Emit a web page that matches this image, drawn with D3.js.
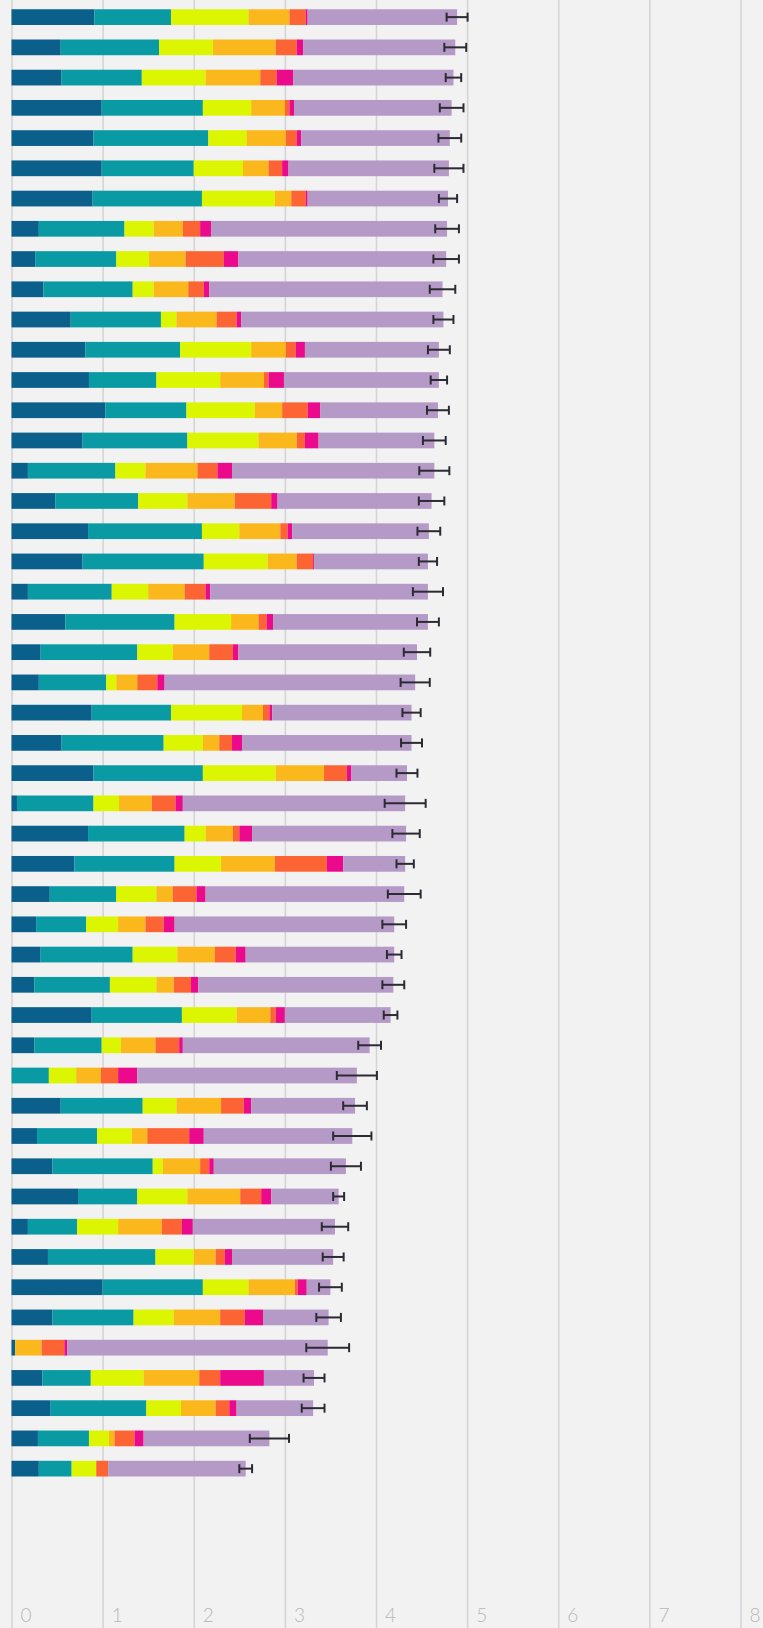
<!DOCTYPE html>
<html>
<head>
<meta charset="utf-8">
<script src="https://cdn.jsdelivr.net/npm/d3@7"></script>
<style>
  html, body { margin: 0; padding: 0; background: #f2f2f2; }
  svg { display: block; }
</style>
</head>
<body>
<div id="chart"></div>
<script>
// Stacked horizontal bars, seven components per row, with an error bar on each total.
const tickValues = [0, 1, 2, 3, 4, 5, 6, 7, 8];

const darkBlue = [0.91,0.54,0.55,0.99,0.90,0.99,0.89,0.30, 0.26,0.35,0.65,0.81,0.85,1.03,0.78,0.18,
  0.48,0.84,0.78,0.18,0.59,0.32,0.30,0.88, 0.55,0.90,0.06,0.84,0.69,0.42,0.27,0.32,
  0.25,0.88,0.25,0.00,0.54,0.28,0.45,0.73, 0.18,0.40,1.00,0.45,0.04,0.34,0.43,0.29,0.30];
const teal = [0.84,1.08,0.88,1.11,1.26,1.01,1.20,0.94, 0.89,0.98,0.99,1.04,0.74,0.89,1.15,0.96,
  0.91,1.25,1.33,0.92,1.20,1.06,0.74,0.87, 1.12,1.20,0.84,1.06,1.10,0.73,0.55,1.01,
  0.83,0.99,0.74,0.41,0.90,0.66,1.10,0.65, 0.54,1.18,1.10,0.89,0.00,0.53,1.05,0.56,0.36];
const lime = [0.85,0.59,0.70,0.53,0.42,0.54,0.80,0.32, 0.36,0.23,0.17,0.78,0.70,0.75,0.78,0.33,
  0.54,0.41,0.70,0.40,0.62,0.39,0.11,0.78, 0.43,0.80,0.28,0.23,0.51,0.44,0.35,0.49,
  0.51,0.60,0.21,0.30,0.37,0.38,0.11,0.55, 0.45,0.42,0.50,0.44,0.00,0.58,0.38,0.22,0.27];
const amber = [0.45,0.69,0.60,0.37,0.43,0.28,0.18,0.32, 0.40,0.38,0.44,0.38,0.48,0.30,0.42,0.57,
  0.52,0.45,0.32,0.40,0.30,0.40,0.23,0.23, 0.18,0.53,0.36,0.30,0.59,0.18,0.30,0.41,
  0.19,0.37,0.38,0.27,0.49,0.17,0.41,0.58, 0.48,0.24,0.51,0.51,0.29,0.61,0.38,0.06,0.00];
const coral = [0.18,0.23,0.18,0.05,0.12,0.15,0.16,0.19, 0.42,0.17,0.22,0.11,0.05,0.28,0.09,0.22,
  0.40,0.08,0.18,0.23,0.09,0.26,0.22,0.07, 0.14,0.25,0.26,0.07,0.57,0.26,0.20,0.23,
  0.19,0.06,0.26,0.19,0.25,0.46,0.10,0.23, 0.22,0.10,0.03,0.27,0.25,0.23,0.15,0.22,0.13];
const magenta = [0.02,0.07,0.18,0.05,0.05,0.07,0.02,0.12, 0.16,0.06,0.05,0.10,0.17,0.14,0.15,0.16,
  0.07,0.05,0.01,0.05,0.07,0.06,0.08,0.03, 0.11,0.05,0.08,0.14,0.18,0.10,0.12,0.11,
  0.08,0.10,0.04,0.21,0.08,0.16,0.05,0.11, 0.12,0.08,0.10,0.20,0.03,0.48,0.08,0.10,0.00];
const lavender = [1.64,1.67,1.76,1.73,1.63,1.76,1.54,2.59, 2.28,2.56,2.22,1.47,1.70,1.29,1.27,2.22,
  1.69,1.50,1.25,2.39,1.70,1.96,2.75,1.53, 1.86,0.61,2.44,1.69,0.68,2.18,2.41,1.63,
  2.14,1.16,2.05,2.41,1.14,1.63,1.45,0.74, 1.56,1.11,0.26,0.72,2.86,0.55,0.84,1.38,1.51];
const errorHalf = [0.115,0.12,0.085,0.13,0.125,0.16,0.10,0.13, 0.14,0.14,0.11,0.12,0.09,0.12,0.125,0.165,
  0.14,0.125,0.10,0.165,0.12,0.145,0.16,0.10, 0.115,0.115,0.225,0.15,0.095,0.18,0.13,0.08,
  0.12,0.075,0.125,0.22,0.13,0.21,0.165,0.06, 0.145,0.115,0.125,0.135,0.235,0.115,0.125,0.215,0.07];

const seriesKeys = ["darkBlue", "teal", "lime", "amber", "coral", "magenta", "lavender"];
const seriesColors = ["#0a5f8b", "#0a9aa3", "#dcf500", "#fbb81c", "#fd6433", "#ec0a8c", "#b59ac8"];
const seriesValues = [darkBlue, teal, lime, amber, coral, magenta, lavender];

const rows = darkBlue.map((_, i) => {
  const r = { id: i };
  seriesKeys.forEach((k, j) => { r[k] = seriesValues[j][i]; });
  r.total = seriesValues.reduce((s, arr) => s + arr[i], 0);
  r.err = errorHalf[i];
  return r;
});

const W = 763, H = 1628;
const svg = d3.select("#chart").append("svg").attr("width", W).attr("height", H);
svg.append("rect").attr("width", W).attr("height", H).attr("fill", "#f2f2f2");

const x = d3.scaleLinear().domain([0, 8]).range([11.5, 740.5]);
const y = d3.scaleBand().domain(rows.map(d => d.id)).range([2, 2 + rows.length * 30.24])
  .paddingInner(0.48).paddingOuter(0.24);

// vertical grid with labels along the bottom
const axis = svg.append("g").attr("transform", `translate(0,${H})`)
  .call(d3.axisBottom(x).tickValues(tickValues).tickSize(-H).tickFormat(d3.format("d")));
axis.select(".domain").remove();
axis.selectAll(".tick line").attr("stroke", "#d5d5d5").attr("stroke-width", 1.6);
axis.selectAll(".tick text")
  .attr("text-anchor", "start")
  .attr("x", 8.5).attr("y", -6).attr("dy", 0)
  .attr("fill", "#b8b8b8")
  .style("font-family", "Lato, 'Open Sans', sans-serif")
  .style("font-weight", 300)
  .style("font-size", "19px");

// stacked segments
const stack = d3.stack().keys(seriesKeys);
const layers = stack(rows);
const color = d3.scaleOrdinal().domain(seriesKeys).range(seriesColors);

svg.append("g").selectAll("g").data(layers).join("g")
  .attr("fill", d => color(d.key))
  .selectAll("rect").data(d => d).join("rect")
  .attr("x", d => x(d[0]))
  .attr("y", d => y(d.data.id))
  .attr("width", d => Math.max(0, x(d[1]) - x(d[0])))
  .attr("height", y.bandwidth());

// error bars on totals
const eb = svg.append("g").attr("stroke", "#2c2a33").attr("stroke-width", 2);
rows.forEach(d => {
  const cy = y(d.id) + y.bandwidth() / 2;
  const x0 = x(d.total - d.err), x1 = x(d.total + d.err);
  eb.append("line").attr("x1", x0).attr("x2", x1).attr("y1", cy).attr("y2", cy);
  eb.append("line").attr("x1", x0).attr("x2", x0).attr("y1", cy - 4.5).attr("y2", cy + 4.5);
  eb.append("line").attr("x1", x1).attr("x2", x1).attr("y1", cy - 4.5).attr("y2", cy + 4.5);
});
</script>
</body>
</html>
